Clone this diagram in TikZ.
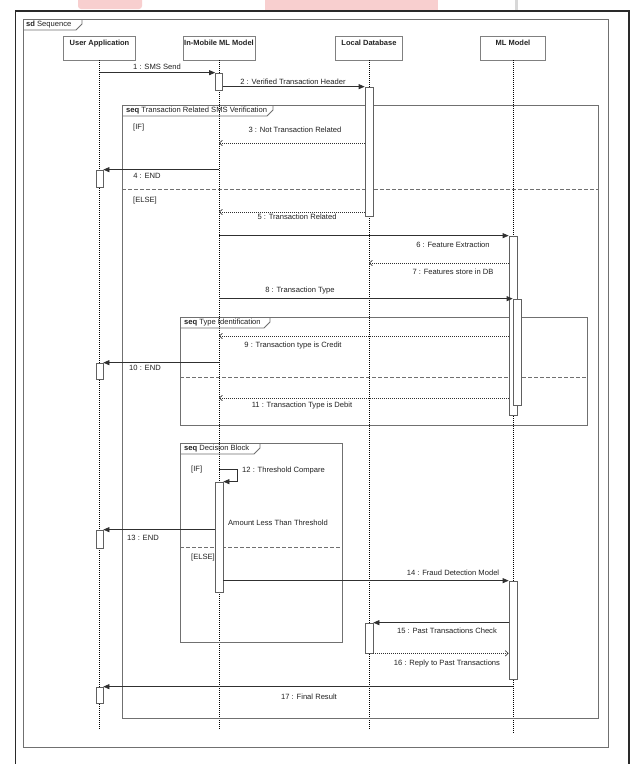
\documentclass[tikz,border=0pt]{standalone}
\usepackage{fontspec}
\setmainfont{Liberation Sans}
\usetikzlibrary{arrows.meta,calc}
\definecolor{txt}{HTML}{222222}
\definecolor{headc}{HTML}{808080}
\definecolor{actc}{HTML}{606060}
\definecolor{msgc}{HTML}{303030}
\definecolor{frmc}{HTML}{707070}
\definecolor{bordc}{HTML}{2A2A2A}
\definecolor{pinkc}{HTML}{F8CFCF}
\definecolor{greyc}{HTML}{D8D8D8}
\begin{document}
\begin{tikzpicture}[x=1pt,y=-1pt,
  every node/.style={font=\fontsize{7.6}{9}\selectfont, text=txt, inner sep=0pt},
  head/.style={draw=headc, fill=white, line width=0.8pt, minimum height=24pt,
    font=\bfseries\fontsize{7.5}{9}\selectfont, text height=5.5pt, text depth=11.5pt},
  act/.style={draw=actc, fill=white, line width=0.7pt, minimum width=7pt},
  life/.style={draw=black, line width=0.5pt, dash pattern=on 1pt off 1pt},
  msg/.style={draw=msgc, line width=0.7pt, -{Triangle[length=6pt,width=5pt]}},
  ret/.style={draw=msgc, line width=0.6pt, dash pattern=on 1pt off 1pt, -{Straight Barb[length=3pt,width=5.5pt]}},
  frm/.style={draw=frmc, line width=0.8pt},
  sepline/.style={draw=frmc, line width=0.8pt, dash pattern=on 4pt off 2pt},
  guard/.style={anchor=west},
]
\useasboundingbox (0,0) rectangle (633,764);
\fill[white] (0,0) rectangle (633,764);
% page remnants above the screenshot
\fill[pinkc, rounded corners=3pt] (78,-4) rectangle (142,9);
\fill[pinkc] (265,0) rectangle (438,10);
\fill[greyc] (515,0) rectangle (518,10);
% outer screenshot border
\draw[bordc, line width=1.8pt] (15.5,764) -- (15.5,11) -- (629,11) -- (629,764);

% sd frame
\draw[frm] (23,19) rectangle (608,747);
\draw[frm] (23,30) -- (76,30) -- (82,24) -- (82,19);
\node[anchor=west] (sdl) at (26,25) {\textbf{sd} Sequence};

% heads
\node[head, minimum width=72pt] (ua) at (99.5,48) {User Application};
\node[head, minimum width=72pt] (im) at (219,48) {In-Mobile ML Model};
\node[head, minimum width=67pt] (db) at (369,48) {Local Database};
\node[head, minimum width=65pt] (ml) at (513,48) {ML Model};

% lifelines
\coordinate (uaE) at (99.5,730);
\coordinate (imE) at (219,730);
\coordinate (dbE) at (369,730);
\coordinate (mlE) at (513,733);
\draw[life] (ua.south) -- (uaE);
\draw[life] (im.south) -- (imE);
\draw[life] (db.south) -- (dbE);
\draw[life] (ml.south) -- (mlE);

% frames
\draw[frm] (122,105) rectangle (598,718);
\draw[frm] (122,116) -- (267,116) -- (273,110) -- (273,105);
\node[anchor=west] (f1l) at (126,110.5) {\textbf{seq} Transaction Related SMS Verification};
\draw[sepline] (122,189) -- (598,189);
\node[guard] (g1) at (133,128) {[IF]};
\node[guard] (g2) at (133,201) {[ELSE]};

\draw[frm] (180,317) rectangle (587,425);
\draw[frm] (180,328) -- (264,328) -- (270,322) -- (270,317);
\node[anchor=west] (f2l) at (184,322.5) {\textbf{seq} Type Identification};
\draw[sepline] (180,377) -- (587,377);

\draw[frm] (180,443) rectangle (342,642);
\draw[frm] (180,454) -- (254,454) -- (260,448) -- (260,443);
\node[anchor=west] (f3l) at (184,448.5) {\textbf{seq} Decision Block};
\draw[sepline] (180,547) -- (342,547);
\node[guard] (g3) at (191,470) {[IF]};
\node[guard] (g4) at (191,558) {[ELSE]};

% activations
\node[act, minimum height=17pt] (a1) at (219,81.5) {};
\node[act, minimum height=129pt, minimum width=8pt] (a2) at (369,151.5) {};
\node[act, minimum height=17pt] (a3) at (99.5,178.5) {};
\node[act, minimum height=179pt, minimum width=8pt] (a4) at (513,325.5) {};
\node[act, minimum height=106pt, minimum width=8pt] (a5) at (517,352) {};
\node[act, minimum height=16pt] (a6) at (99.5,371) {};
\node[act, minimum height=110pt, minimum width=8pt] (a7) at (219,537) {};
\node[act, minimum height=18pt] (a8) at (99.5,539) {};
\node[act, minimum height=98pt, minimum width=8pt] (a9) at (513,630) {};
\node[act, minimum height=30pt, minimum width=8pt] (a10) at (369,638) {};
\node[act, minimum height=16pt] (a11) at (99.5,695) {};

% message levels
\coordinate (y3) at (0,143);
\coordinate (y5) at (0,212);
\coordinate (y7) at (0,263);
\coordinate (y9) at (0,336);
\coordinate (y11) at (0,398);
\coordinate (c12) at (237,469);

% messages
\draw[msg] (ua |- a1.north) -- (a1.north west);
\draw[msg] (a1.east |- a2.north) -- (a2.north west);
\draw[ret] (a2.west |- y3) -- (im |- y3);
\draw[msg] (im |- a3.north) -- (a3.north east);
\draw[ret] (a2.west |- y5) -- (im |- y5);
\draw[msg] (im |- a4.north) -- (a4.north west);
\draw[ret] (a4.west |- y7) -- (db |- y7);
\draw[msg] (im |- a5.north) -- (a5.north west);
\draw[ret] (a4.west |- y9) -- (im |- y9);
\draw[msg] (im |- a6.north) -- (a6.north east);
\draw[ret] (a4.west |- y11) -- (im |- y11);
\draw[msg] (im |- c12) -- (c12) |- (a7.north east);
\draw[msg] (a7.west |- a8.north) -- (a8.north east);
\draw[msg] (a7.east |- a9.north) -- (a9.north west);
\draw[msg] (a9.west |- a10.north) -- (a10.north east);
\draw[ret] (a10.south east) -- (a9.west |- a10.south);
\draw[msg] (ml |- a11.north) -- (a11.north east);

% labels
\node (l1) at (157,67) {1 : SMS Send};
\node (l2) at (293,82) {2 : Verified Transaction Header};
\node (l3) at (295,130) {3 : Not Transaction Related};
\node (l4) at (147,176) {4 : END};
\node (l5) at (297,217) {5 : Transaction Related};
\node (l6) at (453,245) {6 : Feature Extraction};
\node (l7) at (453,272) {7 : Features store in DB};
\node (l8) at (300,291) {8 : Transaction Type};
\node (l9) at (293,346) {9 : Transaction type is Credit};
\node (l10) at (145,368) {10 : END};
\node (l11) at (302,406) {11 : Transaction Type is Debit};
\node[anchor=west] (l12) at (242,471) {12 : Threshold Compare};
\node (lam) at (278,523) {Amount Less Than Threshold};
\node (l13) at (143,538) {13 : END};
\node (l14) at (453,573) {14 : Fraud Detection Model};
\node (l15) at (447,631) {15 : Past Transactions Check};
\node (l16) at (447,664) {16 : Reply to Past Transactions};
\node (l17) at (309,697) {17 : Final Result};
\end{tikzpicture}
\end{document}
